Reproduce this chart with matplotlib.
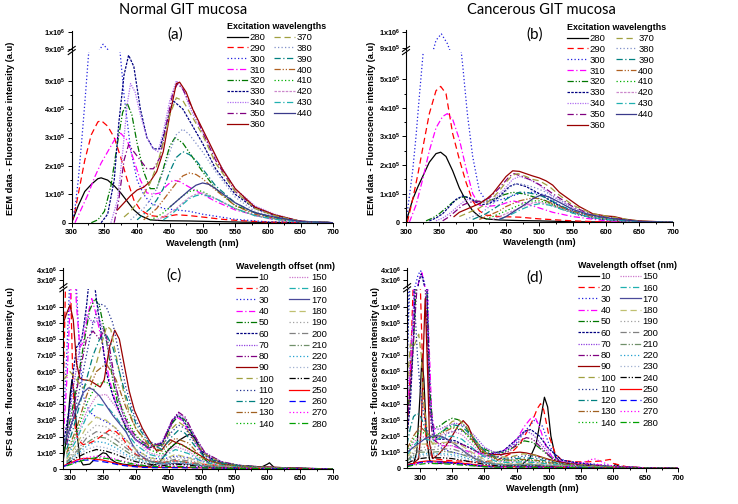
import matplotlib.pyplot as plt
from matplotlib.lines import Line2D
import numpy as np

plt.rcParams['font.family'] = ['Liberation Sans', 'DejaVu Sans']
plt.rcParams['mathtext.fontset'] = 'custom'
plt.rcParams['mathtext.rm'] = 'Liberation Sans'
plt.rcParams['mathtext.bf'] = 'Liberation Sans:bold'
plt.rcParams['mathtext.default'] = 'bf'

# ---------------- data (intensities in units of 1x10^5 a.u.) ----------------
eem_labels = ['280', '290', '300', '310', '320', '330', '340', '350', '360',
              '370', '380', '390', '400', '410', '420', '430', '440']
sfs_labels = [str(v) for v in range(10, 290, 10)]

# (a) Normal GIT mucosa, EEM
a_x = [
    [300, 305, 310, 320, 330, 340, 345, 355, 365, 375, 385, 395, 405, 420, 440, 480, 520, 560, 600, 700],
    [300, 305, 310, 320, 330, 340, 345, 355, 365, 375, 385, 395, 405, 420, 440, 460, 480, 500, 530, 560, 600, 700],
    [300, 305, 310, 315, 320, 325, 330, 340, 348, 355, 365, 372, 380, 390, 400, 410, 420, 440, 460, 480, 500, 550, 600, 700],
    [305, 315, 325, 335, 345, 355, 365, 375, 385, 395, 405, 415, 425, 435, 445, 455, 465, 480, 500, 520, 550, 600, 650, 700],
    [330, 340, 350, 360, 370, 378, 385, 392, 400, 410, 420, 430, 440, 450, 458, 470, 485, 500, 520, 550, 600, 650, 700],
    [345, 355, 365, 372, 380, 387, 395, 405, 415, 425, 435, 445, 455, 470, 485, 500, 520, 550, 580, 610, 650, 700],
    [360, 370, 378, 385, 390, 397, 405, 415, 425, 432, 440, 450, 460, 470, 480, 490, 500, 520, 550, 580, 610, 650, 700],
    [365, 372, 380, 387, 395, 405, 415, 425, 435, 445, 455, 462, 470, 485, 500, 520, 550, 580, 610, 650, 700],
    [370, 380, 390, 400, 410, 420, 430, 440, 450, 460, 465, 475, 485, 500, 515, 530, 550, 580, 610, 650, 700],
    [380, 390, 400, 410, 420, 430, 440, 450, 460, 470, 480, 500, 520, 550, 580, 610, 650, 700],
    [390, 400, 410, 420, 430, 440, 450, 460, 470, 480, 500, 520, 550, 580, 610, 650, 700],
    [400, 410, 420, 430, 440, 450, 460, 470, 480, 490, 500, 520, 550, 580, 610, 650, 700],
    [410, 420, 430, 440, 450, 460, 470, 480, 490, 500, 520, 550, 580, 610, 650, 700],
    [420, 430, 440, 450, 460, 470, 480, 490, 500, 520, 550, 580, 610, 650, 700],
    [430, 440, 450, 460, 470, 480, 490, 500, 520, 550, 580, 610, 650, 700],
    [440, 450, 460, 470, 480, 490, 500, 520, 550, 580, 610, 650, 700],
    [450, 460, 470, 480, 490, 500, 510, 520, 535, 550, 580, 610, 650, 700],
]
a_y = [
    [0, 0.3, 0.6, 1.1, 1.35, 1.55, 1.58, 1.5, 1.3, 1.05, 0.75, 0.45, 0.25, 0.1, 0.07, 0.06, 0.04, 0.02, 0.01, 0],
    [0, 0.4, 1.0, 2.2, 3.1, 3.55, 3.6, 3.4, 3.0, 2.3, 1.5, 0.8, 0.45, 0.25, 0.2, 0.28, 0.25, 0.2, 0.12, 0.07, 0.02, 0],
    [0, 0.5, 1.5, 2.8, 4.2, 5.7, 7.2, 8.8, 9.3, 9.0, 8.0, 6.5, 4.5, 2.6, 1.5, 1.0, 0.7, 0.5, 0.45, 0.4, 0.3, 0.12, 0.03, 0],
    [0, 0.5, 1.0, 1.6, 2.1, 2.5, 2.9, 3.15, 2.9, 2.2, 1.5, 1.05, 1.0, 1.05, 1.3, 1.5, 1.45, 1.25, 1.0, 0.75, 0.45, 0.15, 0.03, 0],
    [0, 0.1, 0.4, 1.3, 2.8, 3.9, 4.2, 3.8, 2.8, 1.8, 1.2, 1.2, 1.9, 2.7, 3.0, 2.8, 2.3, 1.8, 1.2, 0.6, 0.2, 0.04, 0],
    [0, 0.3, 1.5, 3.5, 5.2, 5.9, 5.5, 4.0, 3.0, 2.6, 2.6, 3.5, 4.3, 4.0, 3.4, 2.8, 1.9, 1.0, 0.5, 0.25, 0.05, 0],
    [0, 0.8, 2.5, 4.2, 4.9, 4.6, 3.8, 3.0, 2.6, 2.5, 3.2, 4.3, 5.0, 4.7, 4.1, 3.6, 3.2, 2.3, 1.2, 0.6, 0.3, 0.05, 0],
    [0, 0.8, 2.2, 2.75, 2.5, 2.2, 1.9, 1.9, 2.3, 3.5, 4.6, 4.9, 4.7, 4.0, 3.2, 2.2, 1.1, 0.55, 0.25, 0.05, 0],
    [0.45, 0.7, 0.95, 1.15, 1.25, 1.45, 1.8, 2.5, 3.8, 4.9, 4.95, 4.6, 4.0, 3.3, 2.6, 1.9, 1.2, 0.55, 0.28, 0.05, 0],
    [0.2, 0.4, 0.7, 1.0, 1.4, 2.0, 2.8, 3.8, 4.4, 4.3, 3.9, 3.1, 2.1, 1.1, 0.5, 0.25, 0.05, 0],
    [0.1, 0.3, 0.5, 0.8, 1.2, 1.8, 2.5, 3.1, 3.3, 3.1, 2.5, 1.8, 0.9, 0.4, 0.2, 0.04, 0],
    [0.1, 0.3, 0.5, 0.8, 1.2, 1.8, 2.3, 2.5, 2.4, 2.2, 1.9, 1.3, 0.7, 0.35, 0.18, 0.03, 0],
    [0.1, 0.3, 0.5, 0.8, 1.1, 1.4, 1.65, 1.75, 1.7, 1.55, 1.15, 0.6, 0.3, 0.15, 0.03, 0],
    [0.1, 0.2, 0.35, 0.55, 0.75, 0.95, 1.1, 1.15, 1.1, 0.85, 0.5, 0.25, 0.12, 0.03, 0],
    [0.1, 0.2, 0.35, 0.5, 0.7, 0.9, 1.0, 1.05, 0.85, 0.5, 0.25, 0.12, 0.03, 0],
    [0.1, 0.25, 0.45, 0.65, 0.85, 0.95, 1.0, 0.85, 0.5, 0.25, 0.12, 0.03, 0],
    [0.55, 0.75, 0.95, 1.15, 1.32, 1.4, 1.35, 1.2, 0.95, 0.7, 0.35, 0.2, 0.04, 0],
]

# (b) Cancerous GIT mucosa, EEM
b_x = [
    [300, 305, 310, 318, 325, 335, 345, 352, 360, 370, 380, 390, 400, 410, 420, 440, 470, 500, 550, 600, 700],
    [302, 310, 318, 326, 335, 345, 352, 360, 370, 380, 390, 400, 410, 420, 440, 470, 500, 550, 600, 700],
    [300, 305, 310, 315, 320, 326, 335, 345, 353, 362, 370, 378, 385, 392, 400, 410, 420, 430, 450, 470, 490, 510, 530, 560, 600, 650, 700],
    [305, 315, 325, 335, 345, 355, 362, 370, 380, 390, 400, 410, 420, 440, 460, 480, 500, 520, 550, 600, 700],
    [330, 340, 350, 360, 370, 380, 388, 395, 405, 415, 430, 445, 460, 475, 490, 510, 530, 560, 600, 650, 700],
    [335, 345, 355, 365, 375, 385, 395, 405, 415, 425, 440, 455, 465, 480, 500, 520, 550, 580, 610, 650, 700],
    [345, 355, 365, 375, 385, 392, 400, 410, 420, 430, 445, 460, 470, 485, 500, 520, 550, 580, 610, 650, 700],
    [355, 365, 375, 385, 395, 405, 415, 425, 440, 455, 462, 475, 490, 505, 520, 550, 580, 610, 650, 700],
    [372, 380, 390, 400, 410, 420, 430, 440, 450, 460, 470, 480, 490, 500, 510, 520, 530, 545, 560, 580, 600, 612, 630, 650, 700],
    [380, 390, 400, 410, 420, 430, 440, 450, 460, 468, 480, 490, 500, 515, 530, 550, 580, 610, 650, 700],
    [390, 400, 410, 420, 430, 440, 450, 460, 470, 480, 495, 510, 530, 550, 580, 610, 650, 700],
    [400, 410, 420, 430, 440, 450, 460, 470, 480, 490, 500, 515, 530, 550, 580, 610, 650, 700],
    [410, 420, 430, 440, 450, 460, 470, 480, 490, 500, 515, 530, 550, 580, 610, 650, 700],
    [420, 430, 440, 450, 460, 470, 480, 490, 500, 515, 530, 550, 580, 610, 650, 700],
    [430, 440, 450, 460, 470, 480, 490, 500, 515, 530, 550, 580, 610, 650, 700],
    [440, 450, 460, 470, 480, 490, 500, 515, 530, 550, 580, 610, 650, 700],
    [440, 450, 460, 470, 480, 490, 500, 505, 515, 530, 550, 570, 590, 610, 650, 700],
]
b_y = [
    [0, 0.4, 0.8, 1.25, 1.6, 2.1, 2.4, 2.45, 2.3, 1.8, 1.2, 0.75, 0.4, 0.2, 0.12, 0.08, 0.06, 0.05, 0.02, 0.01, 0],
    [0, 0.8, 1.7, 2.7, 3.8, 4.6, 4.75, 4.5, 3.1, 2.2, 1.4, 0.75, 0.4, 0.25, 0.2, 0.18, 0.12, 0.05, 0.01, 0],
    [0, 0.9, 1.8, 3.0, 4.4, 6.0, 8.0, 9.5, 9.9, 9.3, 8.4, 7.0, 5.5, 3.8, 2.3, 1.1, 0.75, 0.7, 0.85, 1.0, 1.05, 0.95, 0.6, 0.3, 0.1, 0.02, 0],
    [0, 0.6, 1.5, 2.5, 3.3, 3.7, 3.8, 3.6, 2.9, 1.9, 1.0, 0.6, 0.55, 0.6, 0.75, 0.65, 0.5, 0.35, 0.2, 0.05, 0],
    [0.05, 0.15, 0.3, 0.5, 0.7, 0.85, 0.9, 0.85, 0.75, 0.7, 0.8, 0.95, 1.05, 1.0, 0.9, 0.75, 0.5, 0.25, 0.1, 0.02, 0],
    [0.05, 0.15, 0.3, 0.55, 0.8, 0.92, 0.85, 0.7, 0.62, 0.65, 0.9, 1.25, 1.35, 1.25, 1.0, 0.7, 0.35, 0.15, 0.07, 0.02, 0],
    [0.05, 0.15, 0.3, 0.5, 0.7, 0.8, 0.78, 0.72, 0.7, 0.8, 1.1, 1.5, 1.6, 1.5, 1.3, 0.9, 0.5, 0.25, 0.12, 0.03, 0],
    [0.05, 0.2, 0.4, 0.6, 0.7, 0.72, 0.75, 0.85, 1.2, 1.6, 1.7, 1.6, 1.45, 1.25, 1.0, 0.55, 0.25, 0.15, 0.03, 0],
    [0.2, 0.35, 0.45, 0.55, 0.65, 0.8, 1.0, 1.3, 1.6, 1.8, 1.78, 1.7, 1.62, 1.55, 1.45, 1.3, 1.05, 0.8, 0.55, 0.3, 0.22, 0.2, 0.1, 0.05, 0],
    [0.2, 0.3, 0.4, 0.5, 0.65, 0.85, 1.1, 1.4, 1.65, 1.7, 1.6, 1.5, 1.45, 1.25, 0.95, 0.6, 0.3, 0.18, 0.04, 0],
    [0.1, 0.2, 0.3, 0.45, 0.65, 0.85, 1.1, 1.3, 1.35, 1.3, 1.2, 1.05, 0.8, 0.5, 0.25, 0.13, 0.03, 0],
    [0.1, 0.2, 0.3, 0.45, 0.6, 0.8, 0.95, 1.05, 1.05, 1.0, 0.95, 0.8, 0.6, 0.4, 0.2, 0.1, 0.02, 0],
    [0.1, 0.2, 0.3, 0.4, 0.55, 0.65, 0.75, 0.8, 0.85, 0.82, 0.7, 0.55, 0.38, 0.2, 0.1, 0.02, 0],
    [0.1, 0.2, 0.3, 0.4, 0.5, 0.6, 0.7, 0.75, 0.75, 0.65, 0.5, 0.35, 0.18, 0.09, 0.02, 0],
    [0.1, 0.2, 0.3, 0.4, 0.5, 0.6, 0.68, 0.7, 0.62, 0.5, 0.34, 0.17, 0.08, 0.02, 0],
    [0.1, 0.2, 0.3, 0.42, 0.52, 0.6, 0.65, 0.6, 0.48, 0.32, 0.16, 0.08, 0.02, 0],
    [0.1, 0.2, 0.35, 0.5, 0.65, 0.82, 0.93, 0.95, 0.88, 0.7, 0.45, 0.3, 0.2, 0.13, 0.03, 0],
]

# (c) Normal GIT mucosa, SFS
c_common = [295, 310, 325, 340, 355, 370, 385, 400, 420, 440, 460, 480, 500, 530, 560, 600, 650, 700]
c_x = [
    [290, 295, 300, 303, 306, 310, 315, 320, 330, 340, 350, 355, 362, 370, 380, 400, 420, 435, 450, 465, 475, 482, 490, 497, 505, 515, 530, 560, 590, 600, 603, 610, 650, 700],
    [290, 293, 296, 300, 304, 308, 312, 320, 330, 340, 350, 360, 370, 380, 390, 400, 420, 440, 460, 480, 500, 550, 600, 700],
    [290, 295, 300, 305, 310, 315, 320, 330, 340, 350, 360, 370, 380, 400, 420, 440, 460, 480, 500, 550, 600, 700],
    [290, 296, 300, 305, 310, 315, 320, 327, 333, 340, 350, 360, 370, 380, 400, 420, 440, 455, 462, 470, 485, 500, 520, 550, 600, 650, 700],
    [290, 300, 310, 320, 330, 338, 345, 355, 365, 375, 385, 400, 420, 440, 455, 465, 475, 490, 505, 530, 560, 600, 650, 700],
    [290, 300, 305, 310, 318, 325, 330, 334, 340, 348, 355, 365, 375, 385, 400, 420, 440, 455, 462, 470, 485, 500, 520, 550, 600, 650, 700],
    [295, 305, 315, 325, 335, 345, 355, 365, 375, 385, 400, 420, 440, 455, 465, 475, 490, 505, 530, 560, 600, 650, 700],
    [295, 305, 315, 325, 335, 345, 352, 360, 370, 380, 390, 400, 420, 440, 455, 465, 475, 490, 505, 530, 560, 600, 650, 700],
    [290, 295, 300, 305, 310, 315, 320, 330, 340, 346, 352, 360, 368, 375, 382, 390, 398, 410, 420, 432, 440, 447, 453, 460, 470, 480, 495, 510, 530, 560, 600, 650, 700],
    [290, 300, 310, 320, 330, 340, 350, 356, 362, 370, 380, 390, 400, 420, 440, 455, 465, 475, 490, 505, 530, 560, 600, 650, 700],
    [295, 305, 315, 325, 335, 345, 355, 365, 375, 385, 400, 420, 440, 455, 465, 475, 490, 505, 530, 560, 600, 650, 700],
    [295, 305, 315, 325, 335, 345, 355, 365, 375, 385, 400, 420, 440, 455, 465, 475, 490, 505, 530, 560, 600, 650, 700],
    c_common, c_common, c_common, c_common,
    [290, 300, 310, 320, 328, 335, 345, 355, 365, 375, 385, 395, 405, 420, 440, 460, 480, 500, 530, 560, 600, 650, 700],
    c_common, c_common, c_common, c_common, c_common, c_common, c_common,
    [290, 300, 310, 320, 330, 340, 350, 360, 375, 390, 410, 430, 460, 490, 520, 560, 600, 650, 700],
    [290, 300, 310, 320, 330, 340, 350, 360, 375, 390, 410, 430, 460, 490, 520, 560, 600, 650, 700],
    c_common, c_common,
]
c_y = [
    [0.6, 2.0, 4.5, 5.5, 4.8, 2.5, 0.6, 0.25, 0.3, 0.7, 1.0, 0.95, 0.6, 0.4, 0.3, 0.2, 0.15, 0.35, 1.2, 1.75, 2.0, 2.15, 1.9, 1.3, 0.6, 0.2, 0.1, 0.08, 0.1, 0.3, 0.38, 0.1, 0.05, 0],
    [5, 11, 15, 13, 6, 2.5, 1.8, 1.5, 1.6, 1.8, 2.1, 2.4, 2.3, 1.9, 1.3, 0.9, 0.5, 0.4, 0.5, 0.4, 0.3, 0.15, 0.05, 0],
    [3, 7, 12, 15, 11, 7, 4.5, 3.5, 3.2, 3.0, 2.8, 2.5, 2.0, 1.2, 0.7, 0.6, 0.8, 0.7, 0.5, 0.2, 0.1, 0],
    [2, 6, 10, 14, 10, 7.5, 7.8, 9.5, 10.5, 9.5, 7.5, 5.5, 4.0, 3.0, 1.8, 1.2, 1.5, 2.8, 3.2, 3.0, 2.0, 1.0, 0.5, 0.25, 0.1, 0.03, 0],
    [1, 3, 5, 7.5, 9.8, 10.5, 10.0, 8.0, 5.5, 3.5, 2.5, 1.8, 1.3, 1.5, 2.8, 3.3, 3.0, 1.8, 0.9, 0.4, 0.2, 0.1, 0.03, 0],
    [1.5, 4, 6, 7.5, 8, 10, 12, 12.5, 10.5, 8.2, 6, 4.5, 3.5, 2.6, 1.8, 1.3, 1.6, 2.9, 3.3, 3.1, 2.2, 1.1, 0.5, 0.25, 0.1, 0.03, 0],
    [2, 5, 7.5, 9.5, 9.0, 9.2, 8.0, 6.0, 4.0, 2.8, 1.8, 1.3, 1.7, 3.0, 3.4, 3.1, 2.0, 1.0, 0.45, 0.2, 0.1, 0.03, 0],
    [1.5, 3.5, 6.0, 8.0, 8.5, 8.0, 8.6, 7.5, 5.0, 3.5, 2.6, 2.0, 1.4, 1.6, 3.0, 3.5, 3.2, 2.0, 1.0, 0.45, 0.2, 0.1, 0.03, 0],
    [9.0, 9.6, 10.1, 9.2, 6.5, 5.6, 5.5, 5.45, 5.2, 5.05, 5.5, 7.5, 8.55, 8.0, 6.5, 4.8, 3.6, 2.5, 1.8, 1.1, 1.2, 1.6, 1.8, 1.65, 1.5, 1.25, 0.9, 0.55, 0.3, 0.18, 0.12, 0.04, 0],
    [5.5, 6, 5.5, 5.0, 5.5, 6.5, 8.0, 8.8, 8.6, 7.0, 5.0, 3.5, 2.5, 1.5, 1.4, 2.5, 2.9, 2.6, 1.7, 0.9, 0.4, 0.2, 0.1, 0.03, 0],
    [1.5, 3, 5, 7, 9, 10.2, 10, 9, 7, 5, 3, 1.7, 1.4, 2.3, 2.7, 2.5, 1.6, 0.8, 0.4, 0.2, 0.1, 0.03, 0],
    [1.2, 2.5, 4, 5.5, 7, 8, 8.3, 7.5, 6, 4.5, 2.8, 1.6, 1.2, 2.0, 2.4, 2.2, 1.4, 0.7, 0.35, 0.18, 0.08, 0.02, 0],
    [1.0, 2.5, 4.5, 6.0, 6.5, 5.5, 3.8, 2.5, 1.4, 1.1, 1.9, 1.6, 0.7, 0.3, 0.15, 0.08, 0.02, 0],
    [0.9, 2.2, 4.0, 5.2, 5.4, 4.6, 3.2, 2.1, 1.2, 0.9, 1.6, 1.3, 0.6, 0.25, 0.12, 0.06, 0.02, 0],
    [0.8, 2.0, 3.5, 4.5, 4.6, 3.8, 2.7, 1.8, 1.0, 0.8, 1.4, 1.1, 0.5, 0.22, 0.1, 0.05, 0.02, 0],
    [0.7, 1.8, 3.2, 4.0, 3.9, 3.2, 2.3, 1.5, 0.9, 0.7, 1.2, 0.95, 0.45, 0.2, 0.1, 0.05, 0.02, 0],
    [1.5, 2.5, 3.7, 4.7, 5.0, 4.9, 4.5, 3.9, 3.3, 2.8, 2.3, 1.5, 0.9, 0.5, 0.3, 0.35, 0.3, 0.2, 0.1, 0.06, 0.04, 0.02, 0],
    [0.6, 1.5, 2.6, 3.2, 3.0, 2.5, 1.8, 1.2, 0.7, 0.55, 0.9, 0.7, 0.35, 0.15, 0.08, 0.04, 0.01, 0],
    [0.5, 1.3, 2.2, 2.7, 2.6, 2.1, 1.5, 1.0, 0.6, 0.45, 0.75, 0.6, 0.3, 0.13, 0.07, 0.03, 0.01, 0],
    [0.45, 1.1, 1.9, 2.3, 2.2, 1.8, 1.3, 0.85, 0.5, 0.4, 0.6, 0.5, 0.25, 0.12, 0.06, 0.03, 0.01, 0],
    [0.4, 1.0, 1.6, 2.0, 1.9, 1.5, 1.1, 0.7, 0.45, 0.35, 0.5, 0.4, 0.2, 0.1, 0.05, 0.02, 0.01, 0],
    [0.35, 0.9, 1.4, 1.7, 1.6, 1.3, 0.9, 0.6, 0.4, 0.3, 0.45, 0.35, 0.18, 0.09, 0.05, 0.02, 0.01, 0],
    [0.3, 0.8, 1.2, 1.4, 1.3, 1.1, 0.8, 0.5, 0.35, 0.25, 0.4, 0.3, 0.15, 0.08, 0.04, 0.02, 0.01, 0],
    [0.3, 0.7, 1.0, 1.2, 1.1, 0.9, 0.65, 0.45, 0.3, 0.2, 0.3, 0.25, 0.12, 0.07, 0.04, 0.02, 0.01, 0],
    [0.2, 0.35, 0.55, 0.65, 0.65, 0.6, 0.55, 0.45, 0.3, 0.2, 0.12, 0.1, 0.1, 0.08, 0.06, 0.04, 0.03, 0.02, 0],
    [0.15, 0.3, 0.45, 0.55, 0.55, 0.5, 0.45, 0.38, 0.25, 0.17, 0.1, 0.08, 0.08, 0.07, 0.05, 0.03, 0.02, 0.01, 0],
    [0.25, 0.5, 0.7, 0.8, 0.75, 0.6, 0.45, 0.3, 0.2, 0.15, 0.2, 0.15, 0.1, 0.06, 0.04, 0.02, 0.01, 0],
    [0.2, 0.4, 0.6, 0.7, 0.65, 0.55, 0.4, 0.28, 0.18, 0.13, 0.17, 0.13, 0.08, 0.05, 0.03, 0.02, 0.01, 0],
]

# (d) Cancerous GIT mucosa, SFS
d_common = [280, 290, 300, 310, 320, 335, 350, 365, 380, 400, 420, 440, 460, 480, 500, 530, 560, 600, 650, 700]
d_x = [
    [280, 290, 295, 300, 303, 306, 310, 315, 320, 330, 340, 360, 380, 400, 420, 440, 460, 470, 480, 487, 493, 498, 503, 510, 520, 540, 560, 580, 600, 603, 610, 650, 700],
    [280, 285, 290, 295, 300, 305, 310, 320, 340, 360, 380, 400, 420, 440, 455, 465, 475, 482, 487, 492, 500, 510, 520, 540, 560, 580, 595, 600, 620, 650, 700],
    [280, 283, 288, 293, 297, 301, 305, 309, 313, 318, 325, 335, 350, 370, 390, 410, 430, 450, 465, 478, 490, 500, 510, 530, 560, 600, 650, 700],
    [280, 285, 290, 295, 300, 303, 307, 312, 318, 325, 335, 350, 370, 390, 410, 430, 450, 462, 472, 478, 485, 495, 505, 520, 550, 580, 600, 650, 700],
    [280, 285, 290, 295, 300, 305, 310, 315, 320, 330, 340, 350, 360, 370, 380, 395, 410, 430, 450, 462, 475, 490, 505, 520, 550, 580, 610, 650, 700],
    [280, 285, 290, 295, 298, 302, 306, 310, 315, 322, 330, 340, 355, 370, 390, 410, 430, 450, 462, 472, 485, 500, 520, 550, 580, 610, 650, 700],
    [280, 285, 290, 295, 300, 305, 310, 315, 320, 330, 340, 355, 370, 385, 400, 420, 440, 455, 465, 475, 490, 505, 520, 550, 580, 610, 650, 700],
    [280, 285, 290, 295, 300, 305, 310, 315, 320, 330, 340, 355, 370, 385, 400, 420, 440, 455, 465, 475, 490, 505, 520, 550, 580, 610, 650, 700],
    [280, 290, 298, 302, 305, 308, 311, 315, 320, 330, 340, 350, 360, 367, 375, 385, 395, 410, 425, 440, 455, 465, 480, 500, 520, 550, 580, 610, 650, 700],
    [280, 285, 290, 295, 298, 302, 306, 312, 320, 330, 340, 350, 360, 370, 385, 400, 420, 440, 460, 480, 500, 520, 550, 580, 610, 650, 700],
    [280, 284, 288, 292, 296, 300, 305, 310, 318, 330, 345, 360, 375, 390, 410, 430, 450, 470, 490, 510, 540, 580, 610, 650, 700],
    [280, 285, 290, 295, 300, 305, 310, 320, 335, 350, 365, 380, 400, 420, 440, 460, 480, 500, 530, 560, 600, 650, 700],
    d_common, d_common, d_common, d_common,
    [280, 290, 300, 310, 320, 330, 340, 350, 360, 370, 385, 400, 420, 440, 460, 480, 500, 530, 560, 600, 650, 700],
    d_common, d_common, d_common, d_common, d_common, d_common, d_common, d_common, d_common,
    [280, 290, 300, 310, 320, 335, 350, 365, 380, 400, 420, 440, 460, 480, 500, 530, 555, 570, 585, 600, 650, 700],
    d_common,
]
d_y = [
    [0.2, 0.3, 1.0, 4.5, 6.8, 5.5, 2.0, 0.5, 0.3, 0.3, 0.35, 0.3, 0.2, 0.1, 0.1, 0.15, 0.3, 0.6, 1.5, 3.0, 4.4, 3.8, 2.0, 0.7, 0.3, 0.1, 0.05, 0.05, 0.1, 0.25, 0.1, 0.03, 0],
    [2, 6, 12, 16, 12, 5, 1.5, 0.6, 0.5, 0.45, 0.4, 0.4, 0.5, 0.9, 1.5, 2.2, 3.0, 3.7, 4.0, 3.6, 2.0, 0.9, 0.5, 0.4, 0.4, 0.45, 0.55, 0.3, 0.1, 0.03, 0],
    [5, 12, 14, 25, 35, 39, 33, 20, 8, 3.0, 1.5, 1.2, 1.0, 0.8, 0.7, 0.8, 1.0, 1.6, 2.4, 3.0, 2.6, 1.5, 0.7, 0.4, 0.3, 0.15, 0.03, 0],
    [3, 6, 10, 20, 33, 37, 25, 10, 3.5, 1.6, 1.4, 1.4, 1.1, 0.9, 0.9, 1.1, 1.8, 2.6, 3.1, 3.2, 2.6, 1.4, 0.7, 0.4, 0.3, 0.2, 0.1, 0.03, 0],
    [3, 5, 8, 12, 16, 18, 12, 5, 2.5, 2.6, 2.9, 3.1, 3.0, 2.6, 2.0, 1.3, 1.0, 1.0, 1.4, 1.7, 1.6, 1.1, 0.6, 0.35, 0.25, 0.15, 0.07, 0.02, 0],
    [2, 4, 8, 16, 28, 36, 27, 12, 4, 2.0, 1.8, 1.8, 1.7, 1.4, 1.0, 0.9, 1.1, 1.8, 2.3, 2.4, 2.0, 1.2, 0.5, 0.3, 0.15, 0.07, 0.02, 0],
    [4, 7, 10, 14, 17, 16, 10, 4, 2.5, 2.4, 2.6, 2.8, 2.6, 2.0, 1.3, 0.9, 1.3, 2.0, 2.3, 2.1, 1.4, 0.7, 0.4, 0.25, 0.15, 0.07, 0.02, 0],
    [2.5, 5, 8, 11, 14, 15, 9, 3.5, 1.8, 1.5, 1.6, 1.6, 1.4, 1.1, 0.8, 0.7, 1.1, 1.7, 1.9, 1.8, 1.2, 0.6, 0.35, 0.2, 0.12, 0.06, 0.02, 0],
    [0.2, 0.3, 0.6, 2.5, 7.0, 10.5, 7.0, 1.5, 0.6, 0.9, 1.4, 2.0, 2.7, 2.95, 2.6, 1.6, 1.0, 0.85, 0.85, 0.95, 1.0, 0.95, 0.8, 0.55, 0.35, 0.2, 0.12, 0.06, 0.02, 0],
    [5, 7.7, 7.5, 8.0, 8.3, 7.0, 4.0, 2.0, 1.5, 1.9, 2.5, 2.9, 3.0, 2.7, 1.8, 1.0, 0.7, 0.7, 0.9, 0.8, 0.5, 0.3, 0.2, 0.12, 0.06, 0.02, 0],
    [7, 11, 12, 10, 7, 5, 3.5, 2.5, 1.8, 1.8, 2.2, 2.4, 2.1, 1.4, 0.8, 0.6, 0.7, 0.8, 0.6, 0.35, 0.2, 0.1, 0.05, 0.02, 0],
    [1.5, 2.5, 3.2, 3.4, 3.3, 2.8, 2.2, 1.9, 2.3, 2.7, 2.6, 2.0, 1.1, 0.6, 0.55, 0.65, 0.6, 0.4, 0.2, 0.12, 0.05, 0.02, 0],
    [1.2, 2.0, 2.6, 2.2, 1.9, 2.2, 2.5, 2.4, 1.8, 1.0, 0.55, 0.5, 0.55, 0.5, 0.35, 0.2, 0.1, 0.05, 0.02, 0],
    [1.0, 1.8, 2.3, 2.1, 1.9, 2.3, 2.6, 2.4, 1.7, 0.9, 0.5, 0.45, 0.5, 0.45, 0.3, 0.18, 0.1, 0.05, 0.02, 0],
    [0.9, 1.6, 2.0, 1.9, 1.8, 2.1, 2.3, 2.1, 1.5, 0.8, 0.45, 0.4, 0.45, 0.4, 0.28, 0.16, 0.09, 0.04, 0.02, 0],
    [0.8, 1.4, 1.8, 1.8, 1.7, 1.9, 2.0, 1.8, 1.3, 0.7, 0.4, 0.35, 0.4, 0.35, 0.25, 0.15, 0.08, 0.04, 0.02, 0],
    [1.0, 1.3, 1.6, 1.9, 2.0, 2.0, 1.85, 1.6, 1.3, 1.0, 0.6, 0.35, 0.25, 0.2, 0.2, 0.18, 0.12, 0.08, 0.05, 0.03, 0.01, 0],
    [0.7, 1.2, 1.5, 1.5, 1.5, 1.6, 1.6, 1.4, 1.0, 0.55, 0.3, 0.28, 0.3, 0.28, 0.2, 0.12, 0.08, 0.05, 0.02, 0],
    [0.6, 1.0, 1.3, 1.3, 1.3, 1.4, 1.4, 1.2, 0.9, 0.5, 0.28, 0.25, 0.27, 0.25, 0.18, 0.12, 0.08, 0.04, 0.01, 0],
    [0.5, 0.9, 1.1, 1.15, 1.15, 1.2, 1.2, 1.0, 0.75, 0.42, 0.25, 0.22, 0.24, 0.22, 0.16, 0.11, 0.07, 0.04, 0.01, 0],
    [0.45, 0.8, 1.0, 1.0, 1.0, 1.05, 1.0, 0.85, 0.65, 0.37, 0.22, 0.2, 0.21, 0.2, 0.15, 0.1, 0.06, 0.03, 0.01, 0],
    [0.4, 0.7, 0.85, 0.9, 0.9, 0.9, 0.85, 0.72, 0.55, 0.32, 0.2, 0.18, 0.19, 0.18, 0.13, 0.09, 0.05, 0.03, 0.01, 0],
    [0.35, 0.6, 0.75, 0.8, 0.8, 0.8, 0.75, 0.62, 0.47, 0.28, 0.17, 0.15, 0.16, 0.15, 0.12, 0.08, 0.05, 0.02, 0.01, 0],
    [0.3, 0.5, 0.6, 0.65, 0.65, 0.65, 0.6, 0.5, 0.4, 0.24, 0.15, 0.13, 0.14, 0.13, 0.1, 0.07, 0.04, 0.02, 0.01, 0],
    [0.2, 0.3, 0.4, 0.45, 0.45, 0.42, 0.38, 0.32, 0.25, 0.15, 0.1, 0.09, 0.1, 0.09, 0.07, 0.05, 0.03, 0.02, 0.01, 0],
    [0.15, 0.25, 0.35, 0.4, 0.4, 0.38, 0.34, 0.28, 0.22, 0.13, 0.09, 0.08, 0.09, 0.08, 0.06, 0.04, 0.03, 0.02, 0.01, 0],
    [0.15, 0.22, 0.3, 0.35, 0.35, 0.33, 0.3, 0.25, 0.2, 0.12, 0.08, 0.07, 0.08, 0.07, 0.06, 0.1, 0.4, 0.6, 0.35, 0.1, 0.02, 0],
    [0.1, 0.2, 0.25, 0.3, 0.3, 0.28, 0.25, 0.2, 0.16, 0.1, 0.07, 0.06, 0.07, 0.06, 0.05, 0.04, 0.03, 0.02, 0.01, 0],
]

# ---------------- styles ----------------
SOLID = '-'
DASH = (0, (5, 3))
DOT = (0, (1, 1.8))
DASHDOT = (0, (5, 2, 1, 2))
DDOT = (0, (5, 1.5, 1, 1.5, 1, 1.5))
SDASH = (0, (2, 1))
SDOT = (0, (1, 1))

eem_styles = [('#000000', SOLID), ('#ff0000', DASH), ('#2020e0', DOT), ('#ff00ff', DASHDOT),
              ('#007700', DDOT), ('#000080', SDASH), ('#b070f0', SDOT), ('#800080', DASHDOT),
              ('#990000', SOLID), ('#a0a040', DASH), ('#7f8fc8', DOT), ('#008080', DASHDOT),
              ('#b06020', DDOT), ('#00b000', DOT), ('#cc88cc', SDASH), ('#20b0b0', DASHDOT),
              ('#3a3a8a', SOLID)]
sfs_styles = [('#000000', SOLID), ('#ff0000', DASH), ('#2020e0', DOT), ('#ff00ff', DASHDOT),
              ('#007700', DDOT), ('#000080', SDASH), ('#9040e0', SDOT), ('#800080', DDOT),
              ('#990000', SOLID), ('#a0a040', DASH), ('#203090', DOT), ('#008080', DASHDOT),
              ('#a06020', DDOT), ('#00b000', DOT), ('#cc77cc', SDOT), ('#20b0b0', DASHDOT),
              ('#4a4a9a', SOLID), ('#c0c070', DASH), ('#a0a0a0', DOT), ('#808080', DASHDOT),
              ('#70906a', DDOT), ('#20a0d0', DOT), ('#a0b0d0', DOT), ('#000000', DDOT),
              ('#ff0000', SOLID), ('#0000ff', DASH), ('#ff00ff', DOT), ('#00a000', DASHDOT)]

W, H = 738, 504
fig = plt.figure(figsize=(W / 100, H / 100), dpi=100)


def box(l, t, r, b):
    return [l / W, 1 - b / H, (r - l) / W, (b - t) / H]


def sci(m, e):
    return f'{m}x10$^{{{e}}}$'


def brk(xp, yp):
    for dy in (-1.6, 1.6):
        fig.add_artist(Line2D([(xp - 3.5) / W, (xp + 3.5) / W],
                              [1 - (yp + dy + 2.5) / H, 1 - (yp + dy - 2.5) / H],
                              color='k', lw=0.8, transform=fig.transFigure))


def panel(lo, hi, lo_lim, hi_lim, xlim, xs, ys, labels, styles, lo_ticks, lo_text,
          hi_ticks, hi_text, leg_xy, leg_title, colsp, lsp):
    ax = fig.add_axes(box(*lo))
    top = fig.add_axes(box(*hi))
    for x, y, lab, (c, ls) in zip(xs, ys, labels, styles):
        ax.plot(x, y, color=c, ls=ls, lw=0.9, label=lab)
        top.plot(x, y, color=c, ls=ls, lw=0.9)
    for a in (ax, top):
        a.set_xlim(*xlim)
        a.spines['top'].set_visible(False)
        a.spines['right'].set_visible(False)
        a.patch.set_alpha(0)
        a.tick_params(which='both', direction='out', width=0.7, labelsize=5.3, pad=1.5)
        a.tick_params(which='major', length=3)
        a.tick_params(which='minor', length=1.6)
        for s in a.spines.values():
            s.set_linewidth(0.8)
    ax.set_ylim(*lo_lim)
    top.set_ylim(*hi_lim)
    top.spines['bottom'].set_visible(False)
    top.tick_params(axis='x', which='both', bottom=False, labelbottom=False)
    ax.set_xticks(np.arange(300, 701, 50))
    ax.set_xticks(np.arange(300, 701, 25), minor=True)
    ax.set_xticklabels([str(v) for v in range(300, 701, 50)], fontweight='bold', fontsize=5.6)
    ax.set_yticks(lo_ticks)
    ax.set_yticklabels(lo_text, fontweight='bold')
    ax.set_yticks(np.arange(0, lo_ticks[-1] + 0.01, 0.5), minor=True)
    top.set_yticks(hi_ticks)
    top.set_yticklabels(hi_text, fontweight='bold')
    ax.set_xlabel('Wavelength (nm)', fontsize=6.5, fontweight='bold', labelpad=2)
    ax.legend(ncol=2, loc='upper left', bbox_to_anchor=(leg_xy[0] / W, 1 - leg_xy[1] / H),
              bbox_transform=fig.transFigure, frameon=False, fontsize=6.8,
              title=leg_title, title_fontproperties={'weight': 'bold', 'size': 6.4},
              alignment='left', handlelength=2.2, handletextpad=0.2,
              columnspacing=colsp, labelspacing=lsp, borderpad=0, borderaxespad=0)
    brk(lo[0], (hi[3] + lo[1]) / 2)
    return ax


eem_lo_ticks = [0, 1, 2, 3, 4, 5]
eem_lo_text = ['0'] + [sci(i, 5) for i in range(1, 6)]
sfs_lo_ticks = list(range(0, 11))
sfs_lo_text = ['0'] + [sci(i, 5) for i in range(1, 10)] + [sci(1, 6)]

panel((71.7, 51.5, 333.3, 222.7), (71.7, 31, 333.3, 49.5), (0, 6.03), (8.99, 10.08), (300, 700),
      a_x, a_y, eem_labels, eem_styles, eem_lo_ticks, eem_lo_text, [9, 10], [sci(9, 5), sci(1, 6)],
      (227, 22), 'Excitation wavelengths', 0.9, 0.2)
panel((406, 51.5, 672.7, 222.3), (406, 30, 672.7, 49.5), (0, 5.97), (8.93, 10.14), (300, 700),
      b_x, b_y, eem_labels, eem_styles, eem_lo_ticks, eem_lo_text, [9, 10], [sci(9, 5), sci(1, 6)],
      (567, 23), 'Excitation wavelengths', 1.05, 0.2)
panel((63.4, 289, 333.3, 469), (63.4, 268, 333.3, 286.5), (0, 11.09), (23.7, 41.65), (290, 700),
      c_x, c_y, sfs_labels, sfs_styles, sfs_lo_ticks, sfs_lo_text, [30, 40], [sci(3, 6), sci(4, 6)],
      (236, 262), 'Wavelength offset (nm)', 1.5, 0.24)
panel((407.1, 289, 677.9, 468.3), (407.1, 268, 677.9, 286.5), (0, 11.1), (23.7, 41.65), (280, 700),
      d_x, d_y, sfs_labels, sfs_styles, sfs_lo_ticks, sfs_lo_text, [30, 40], [sci(3, 6), sci(4, 6)],
      (578, 261), 'Wavelength offset (nm)', 0.35, 0.24)

# y-axis titles
ylab_kw = dict(rotation=90, ha='center', va='center', fontsize=6.7, fontweight='bold')
fig.text(11 / W, 1 - 128 / H, 'EEM data - Fluorescence intensity (a.u)', **ylab_kw)
fig.text(371 / W, 1 - 128 / H, 'EEM data - Fluorescence intensity (a.u)', **ylab_kw)
fig.text(11 / W, 1 - 372 / H, 'SFS data - fluorescence intensity (a.u)', **ylab_kw)
fig.text(375 / W, 1 - 372 / H, 'SFS data - fluorescence intensity (a.u)', **ylab_kw)

# titles and panel letters
tkw = dict(ha='center', va='center', family=['Lato', 'DejaVu Sans'])
fig.text(183 / W, 1 - 10.5 / H, 'Normal GIT mucosa', fontsize=10.5, **tkw)
fig.text(541 / W, 1 - 10.5 / H, 'Cancerous GIT mucosa', fontsize=10.5, **tkw)
fig.text(175 / W, 1 - 35 / H, '(a)', fontsize=11, **tkw)
fig.text(535 / W, 1 - 35 / H, '(b)', fontsize=11, **tkw)
fig.text(174 / W, 1 - 275.5 / H, '(c)', fontsize=11, **tkw)
fig.text(535 / W, 1 - 277.5 / H, '(d)', fontsize=11, **tkw)

fig.savefig('out.png', dpi=100)
